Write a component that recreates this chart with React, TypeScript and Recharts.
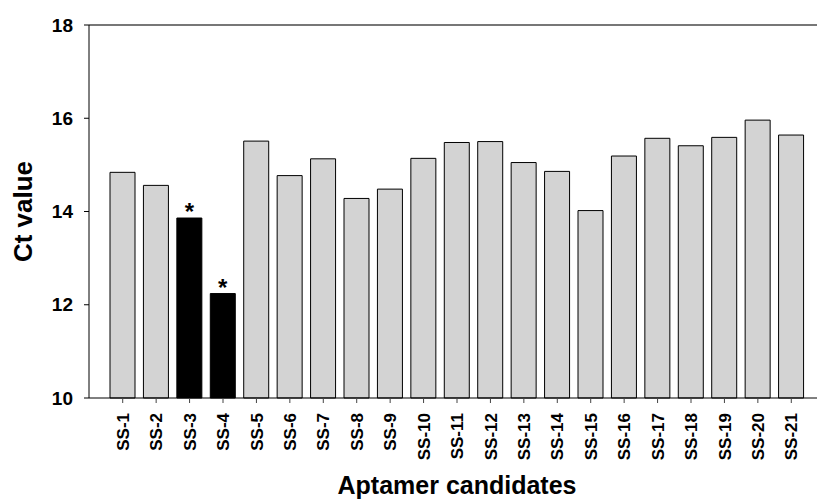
import { BarChart, Bar, XAxis, YAxis, Cell, LabelList, ReferenceLine } from "recharts"

const candidates = [
  "SS-1", "SS-2", "SS-3", "SS-4", "SS-5", "SS-6", "SS-7", "SS-8", "SS-9", "SS-10",
  "SS-11", "SS-12", "SS-13", "SS-14", "SS-15", "SS-16", "SS-17", "SS-18", "SS-19", "SS-20", "SS-21",
]
const ctValues = [
  14.84, 14.56, 13.86, 12.24, 15.51, 14.77, 15.13, 14.28, 14.48, 15.14,
  15.48, 15.5, 15.05, 14.86, 14.02, 15.19, 15.57, 15.41, 15.59, 15.96, 15.64,
]
// candidates marked with an asterisk (significant)
const significant = ["SS-3", "SS-4"]
const yTicks = [10, 12, 14, 16, 18]

const FONT = "'Liberation Sans', Arial, sans-serif"

const data = candidates.map((name, i) => ({
  name,
  ct: ctValues[i],
  sig: significant.includes(name),
}))

// rotated category label
function CandidateTick({ x, y, payload }: any) {
  return (
    <g transform={`translate(${x},${y})`}>
      <text
        transform="rotate(-90)"
        x={-8}
        y={0}
        dy="0.36em"
        textAnchor="end"
        fontFamily={FONT}
        fontWeight="bold"
        fontSize={17}
        fill="#000"
      >
        {payload.value}
      </text>
    </g>
  )
}

// asterisk above significant bars
function StarLabel({ x, y, width, index }: any) {
  if (!data[index]?.sig) return null
  return (
    <text
      x={x + width / 2}
      y={y + 2}
      textAnchor="middle"
      fontFamily={FONT}
      fontWeight="bold"
      fontSize={24}
      fill="#000"
    >
      *
    </text>
  )
}

export default function App() {
  return (
    <div style={{ position: "absolute", left: 0, top: 0 }}>
      <BarChart
        width={817}
        height={501}
        data={data}
        margin={{ top: 25, right: 0, left: 0, bottom: 0 }}
      >
        <ReferenceLine y={18} stroke="#777" strokeWidth={2} />
        <XAxis
          dataKey="name"
          interval={0}
          height={103}
          padding={{ left: 17, right: 9 }}
          axisLine={{ stroke: "#000", strokeWidth: 1 }}
          tickLine={{ stroke: "#444" }}
          tickSize={5}
          tickMargin={2}
          tick={<CandidateTick />}
          label={{
            content: ({ viewBox }: any) => (
              <text
                x={viewBox.x + viewBox.width / 2 + 4}
                y={viewBox.y + 96}
                textAnchor="middle"
                fontFamily={FONT}
                fontWeight="bold"
                fontSize={25}
                fill="#000"
              >
                Aptamer candidates
              </text>
            ),
          }}
        />
        <YAxis
          domain={[10, 18]}
          ticks={yTicks}
          width={89}
          axisLine={{ stroke: "#000", strokeWidth: 1 }}
          tickLine={{ stroke: "#000" }}
          tickSize={5}
          tickMargin={11}
          tick={{ fontFamily: FONT, fontWeight: "bold", fontSize: 19, fill: "#000" }}
          label={{
            content: ({ viewBox }: any) => {
              const cx = viewBox.x + 23
              const cy = viewBox.y + viewBox.height / 2
              return (
                <text
                  x={cx}
                  y={cy}
                  dy="0.36em"
                  transform={`rotate(-90 ${cx} ${cy})`}
                  textAnchor="middle"
                  fontFamily={FONT}
                  fontWeight="bold"
                  fontSize={26}
                  fill="#000"
                >
                  Ct value
                </text>
              )
            },
          }}
        />
        <Bar dataKey="ct" barSize={25} stroke="#000" strokeWidth={1} isAnimationActive={false}>
          {data.map((d) => (
            <Cell key={d.name} fill={d.sig ? "#000" : "#d3d3d3"} />
          ))}
          <LabelList dataKey="ct" content={<StarLabel />} />
        </Bar>
      </BarChart>
    </div>
  )
}
